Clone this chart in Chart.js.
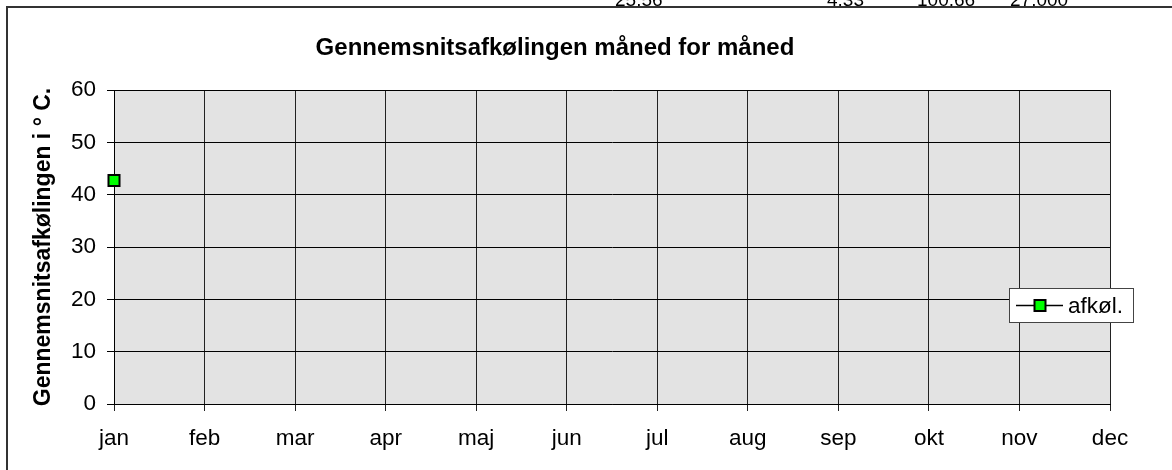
<!DOCTYPE html>
<html>
<head>
<meta charset="utf-8">
<script src="https://cdn.jsdelivr.net/npm/chart.js@4"></script>
<style>
  html, body { margin: 0; padding: 0; background: #fff; }
  #wrap { width: 1172px; height: 470px; position: relative; }
</style>
</head>
<body>
<div id="wrap"><canvas id="c" width="1172" height="470"></canvas></div>
<script>
// ---- data ----
const months = ['jan', 'feb', 'mar', 'apr', 'maj', 'jun', 'jul', 'aug', 'sep', 'okt', 'nov', 'dec'];
const afkoel = [42.7, null, null, null, null, null, null, null, null, null, null, null];
const seriesLabel = 'afkøl.';
const chartTitle = 'Gennemsnitsafkølingen måned for måned';
const yAxisTitle = 'Gennemsnitsafkølingen i ° C.';
const yTicks = [0, 10, 20, 30, 40, 50, 60];
const clippedCellTexts = ['25.56', '4.33', '100.66', '27.000'];

const FONT = "'Liberation Sans', Arial, sans-serif";

const framePlugin = {
  id: 'frame',
  beforeDraw(chart) {
    const { ctx, chartArea: a } = chart;
    ctx.save();
    ctx.fillStyle = '#e3e3e3';
    ctx.fillRect(a.left, a.top, a.right - a.left, a.bottom - a.top);
    ctx.restore();
  },
  afterDraw(chart) {
    const { ctx } = chart;
    ctx.save();
    // outer frame (extends beyond the canvas to the right and bottom)
    ctx.strokeStyle = '#333';
    ctx.lineWidth = 2;
    ctx.beginPath();
    ctx.moveTo(7, 480);
    ctx.lineTo(7, 7);
    ctx.lineTo(1180, 7);
    ctx.stroke();
    // clipped spreadsheet texts at the top
    ctx.fillStyle = '#000';
    ctx.font = "19px " + FONT;
    ctx.textBaseline = 'alphabetic';
    ctx.textAlign = 'left';
    const xs = [615, 827, 917, 1010];
    clippedCellTexts.forEach((t, i) => ctx.fillText(t, xs[i], 6));
    ctx.restore();
  }
};

const legendPlugin = {
  id: 'customLegend',
  afterDraw(chart) {
    const { ctx } = chart;
    const ds = chart.data.datasets[0];
    const bx = 1009.5, by = 288.5, bw = 124, bh = 34;
    ctx.save();
    ctx.fillStyle = '#fff';
    ctx.fillRect(bx, by, bw, bh);
    ctx.strokeStyle = '#444';
    ctx.lineWidth = 1;
    ctx.strokeRect(bx, by, bw, bh);
    const cy = by + bh / 2;
    ctx.strokeStyle = '#000';
    ctx.lineWidth = 1.5;
    ctx.beginPath();
    ctx.moveTo(1016, cy);
    ctx.lineTo(1063, cy);
    ctx.stroke();
    ctx.fillStyle = ds.pointBackgroundColor;
    ctx.fillRect(1034.5, cy - 5.5, 11, 11);
    ctx.lineWidth = 2;
    ctx.strokeRect(1034.5, cy - 5.5, 11, 11);
    ctx.fillStyle = '#000';
    ctx.font = "22.5px " + FONT;
    ctx.textBaseline = 'middle';
    ctx.textAlign = 'left';
    ctx.fillText(ds.label, 1068, cy + 1);
    ctx.restore();
  }
};

new Chart(document.getElementById('c'), {
  type: 'line',
  data: {
    labels: months,
    datasets: [{
      label: seriesLabel,
      data: afkoel,
      borderColor: '#000',
      borderWidth: 1.5,
      pointStyle: 'rect',
      pointRadius: 7.8,
      pointBackgroundColor: '#00ff00',
      pointBorderColor: '#000',
      pointBorderWidth: 2,
      spanGaps: false
    }]
  },
  options: {
    responsive: false,
    animation: false,
    devicePixelRatio: 1,
    layout: { padding: { left: 0, right: 62, top: 0, bottom: 0 } },
    plugins: {
      legend: { display: false },
      tooltip: { enabled: false },
      title: {
        display: true,
        text: chartTitle,
        color: '#000',
        font: { family: FONT, size: 24, weight: 'bold' },
        padding: { top: 33.6, bottom: 27.6 }
      }
    },
    scales: {
      x: {
        type: 'category',
        offset: false,
        grid: { color: '#222', lineWidth: 1, tickLength: 7, drawTicks: true },
        border: { color: '#000', width: 1 },
        ticks: { color: '#000', font: { family: FONT, size: 22.5 }, padding: 14, maxRotation: 0, autoSkip: false },
        afterFit(s) { s.height = 66; }
      },
      y: {
        min: 0,
        max: 60,
        afterBuildTicks(s) { s.ticks = yTicks.map(v => ({ value: v })); },
        grid: { color: '#000', lineWidth: 1, tickLength: 7 },
        border: { color: '#000', width: 1 },
        ticks: { color: '#000', font: { family: FONT, size: 22.5 }, padding: 11 },
        title: {
          display: true,
          text: yAxisTitle,
          color: '#000',
          font: { family: FONT, size: 23, weight: 'bold' },
          padding: { top: 30.2, bottom: 0 }
        },
        afterFit(s) { s.width = 114; }
      }
    }
  },
  plugins: [framePlugin, legendPlugin]
});
</script>
</body>
</html>
